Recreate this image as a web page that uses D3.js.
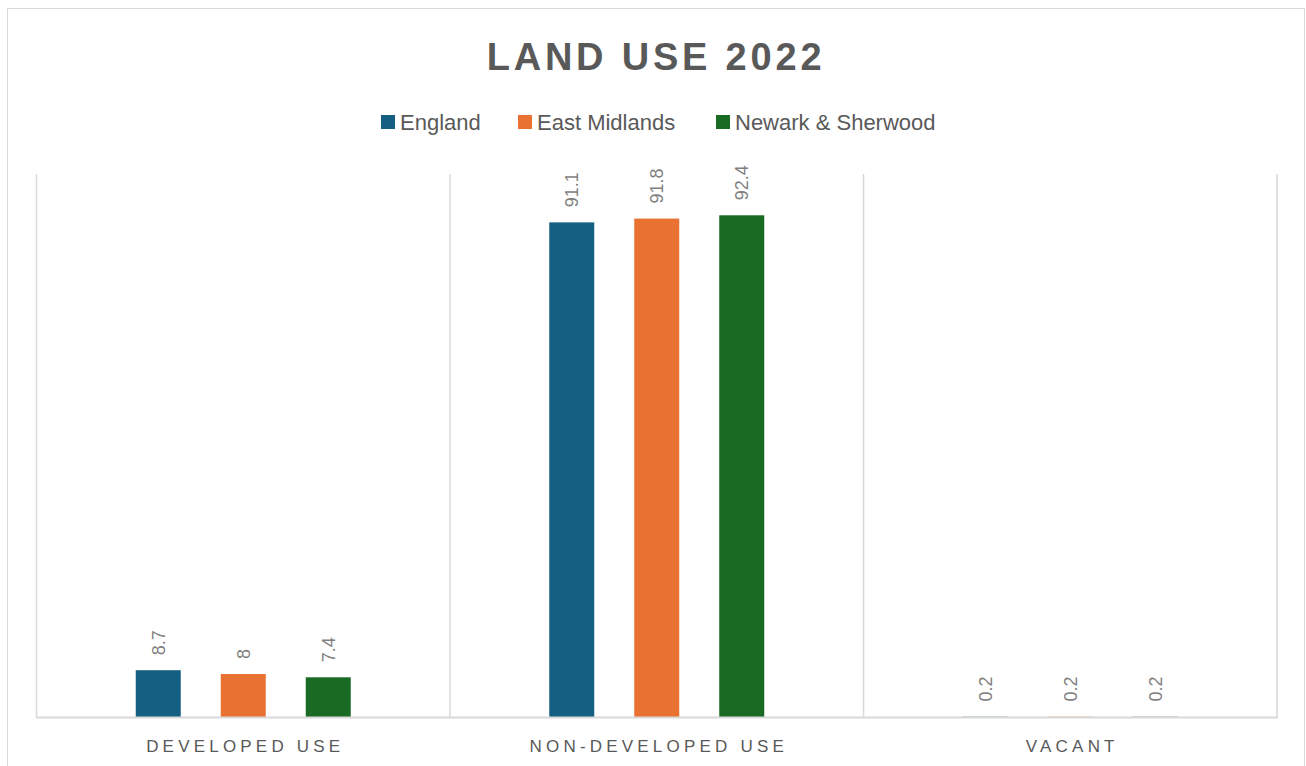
<!DOCTYPE html>
<html>
<head>
<meta charset="utf-8">
<script src="https://cdn.jsdelivr.net/npm/d3@7"></script>
<style>
html,body{margin:0;padding:0;background:#fff;}
svg{display:block;}
</style>
</head>
<body>
<svg id="chart" width="1306" height="766"></svg>
<script>
const title = "LAND USE 2022";
const categories = ["DEVELOPED USE", "NON-DEVELOPED USE", "VACANT"];
const seriesNames = ["England", "East Midlands", "Newark & Sherwood"];
const seriesColors = ["#156082", "#E97132", "#196B24"];
const england = [8.7, 91.1, 0.2];
const eastMidlands = [8, 91.8, 0.2];
const newark = [7.4, 92.4, 0.2];
const yDomain = [0, 100];

const seriesValues = [england, eastMidlands, newark];
const svg = d3.select("#chart");
const plot = {left: 36.5, right: 1277, top: 174, bottom: 717.5};

// outer chart border
svg.append("rect").attr("x", 7.5).attr("y", 8.5).attr("width", 1297).attr("height", 770)
  .attr("fill", "#fff").attr("stroke", "#d9d9d9").attr("stroke-width", 1);

const x0 = d3.scaleBand().domain(categories).range([plot.left, plot.right]).paddingInner(0).paddingOuter(0);
const x1 = d3.scaleBand().domain(seriesNames).range([-107.5, 107.5]).paddingInner(40/85).paddingOuter(0);
const y = d3.scaleLinear().domain(yDomain).range([plot.bottom, plot.top]);

// vertical category separators
const seps = categories.map(c => x0(c)).concat([x0.range()[1]]);
svg.append("g").selectAll("line").data(seps).join("line")
  .attr("x1", d => d).attr("x2", d => d)
  .attr("y1", plot.top).attr("y2", plot.bottom)
  .attr("stroke", "#d9d9d9").attr("stroke-width", 1.5);

// bars
const barData = [];
categories.forEach((c, ci) => {
  seriesNames.forEach((s, si) => {
    barData.push({cat: c, series: s, value: seriesValues[si][ci], color: seriesColors[si]});
  });
});
const bandCenter = c => x0(c) + x0.bandwidth() / 2;
const bw = x1.bandwidth();
svg.append("g").selectAll("rect").data(barData).join("rect")
  .attr("x", d => bandCenter(d.cat) + x1(d.series))
  .attr("y", d => y(d.value))
  .attr("width", bw)
  .attr("height", d => y(0) - y(d.value))
  .attr("fill", d => d.color)
  .attr("fill-opacity", d => d.value < 1 ? 0.5 : 1);

// baseline axis
svg.append("line").attr("x1", plot.left - 0.75).attr("x2", plot.right + 0.75)
  .attr("y1", plot.bottom).attr("y2", plot.bottom)
  .attr("stroke", "#d9d9d9").attr("stroke-width", 2);

// data labels (rotated)
svg.append("g").selectAll("text").data(barData).join("text")
  .attr("transform", d => {
    const cx = bandCenter(d.cat) + x1(d.series) + bw / 2;
    const cy = y(d.value) - 15;
    return `translate(${cx + 6.5},${cy}) rotate(-90)`;
  })
  .attr("text-anchor", "start")
  .attr("font-family", "Liberation Sans, Arial, sans-serif")
  .attr("font-size", 18)
  .attr("fill", "#7f7f7f")
  .text(d => d.value);

// category labels
svg.append("g").selectAll("text").data(categories).join("text")
  .attr("x", d => bandCenter(d) + 2)
  .attr("y", 752)
  .attr("text-anchor", "middle")
  .attr("font-family", "Liberation Sans, Arial, sans-serif")
  .attr("font-size", 17)
  .attr("letter-spacing", "4.2px")
  .attr("fill", "#595959")
  .text(d => d);

// title
svg.append("text").attr("x", 656).attr("y", 70)
  .attr("text-anchor", "middle")
  .attr("font-family", "Liberation Sans, Arial, sans-serif")
  .attr("font-weight", "bold")
  .attr("font-size", 38)
  .attr("letter-spacing", "3.8px")
  .attr("fill", "#595959")
  .text(title);

// legend
const legend = svg.append("g");
const legendX = [381, 518, 716];
seriesNames.forEach((s, i) => {
  legend.append("rect").attr("x", legendX[i]).attr("y", 115).attr("width", 14).attr("height", 14)
    .attr("fill", seriesColors[i]);
  legend.append("text").attr("x", legendX[i] + 19).attr("y", 130)
    .attr("font-family", "Liberation Sans, Arial, sans-serif")
    .attr("font-size", 22)
    .attr("fill", "#595959")
    .text(s);
});
</script>
</body>
</html>
